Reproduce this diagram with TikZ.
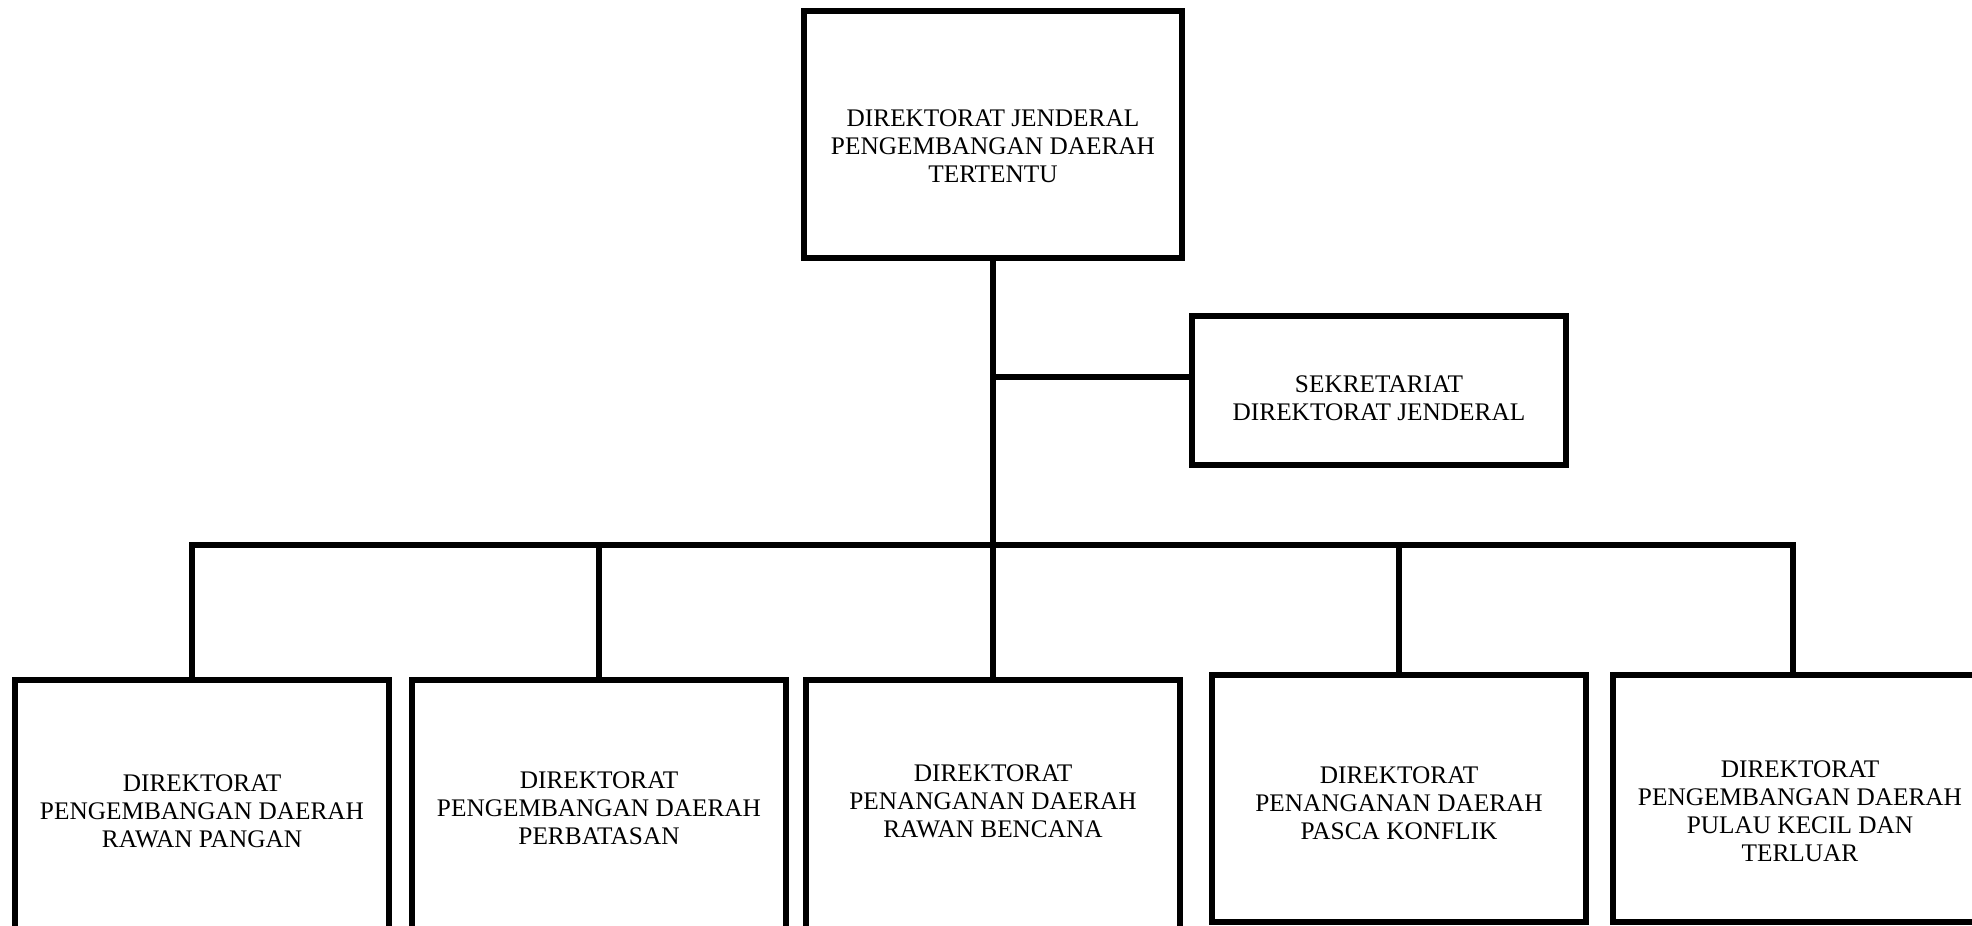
\documentclass[tikz,border=0pt]{standalone}
\usepackage{fontspec}
\setmainfont{Liberation Serif}
\usepackage{tikz}
\usetikzlibrary{calc}
\newcommand{\orgfont}{\fontsize{7.2}{7.95}\selectfont}
\tikzset{
	orgbox/.style={draw, line width=1.6pt, inner sep=0pt, minimum width=3.74cm},
	orgtext/.style={align=center, font=\orgfont, inner sep=0pt},
	orgline/.style={line width=1.6pt, line join=miter}
}

\begin{document}
\begin{tikzpicture}[x=0.1mm, y=-0.1mm]
		%%%%% START %%%%%
		\useasboundingbox (0, 0) rectangle (1972, 926);
		
		\node[orgbox, minimum width=3.78cm, minimum height=2.47cm, label={[orgtext, yshift=-1.2mm]center:{DIREKTORAT JENDERAL\\PENGEMBANGAN DAERAH\\TERTENTU}}] (dirjen) at (993, 134.5) {};
		\node[orgbox, minimum width=3.74cm, minimum height=1.49cm, label={[orgtext, yshift=-0.75mm]center:{SEKRETARIAT\\DIREKTORAT JENDERAL}}] (sekretariat) at (1379, 390.5) {};
		
		\node[orgbox, minimum height=2.7cm, label={[orgtext, yshift=0.4mm]center:{DIREKTORAT\\PENGEMBANGAN DAERAH\\RAWAN PANGAN}}] (pangan) at (202, 815) {};
		\node[orgbox, minimum height=2.7cm, label={[orgtext, yshift=0.65mm]center:{DIREKTORAT\\PENGEMBANGAN DAERAH\\PERBATASAN}}] (perbatasan) at (599, 815) {};
		\node[orgbox, minimum height=2.7cm, label={[orgtext, yshift=1.35mm]center:{DIREKTORAT\\PENANGANAN DAERAH\\RAWAN BENCANA}}] (bencana) at (993, 815) {};
		\node[orgbox, minimum height=2.47cm, label={[orgtext, yshift=-0.45mm]center:{DIREKTORAT\\PENANGANAN DAERAH\\PASCA KONFLIK}}] (konflik) at (1399, 798.5) {};
		\node[orgbox, minimum height=2.47cm, label={[orgtext, yshift=-1.3mm]center:{DIREKTORAT\\PENGEMBANGAN DAERAH\\PULAU KECIL DAN\\TERLUAR}}] (pulau) at (1800, 798.5) {};
		
		\coordinate (sekjct) at (993, 377);
		\coordinate (busL) at (192, 545);
		\coordinate (busR) at (1793, 545);
		
		\draw[orgline] (dirjen.south) -- (bencana.north);
		\draw[orgline] (sekjct) -- (sekjct -| sekretariat.west);
		\draw[orgline] (busL |- pangan.north) -- (busL) -- (busR) -- (busR |- pulau.north);
		\draw[orgline] (perbatasan.north |- busL) -- (perbatasan.north);
		\draw[orgline] (konflik.north |- busL) -- (konflik.north);
		
		%%%%% END %%%%%
	\end{tikzpicture}
\end{document}
